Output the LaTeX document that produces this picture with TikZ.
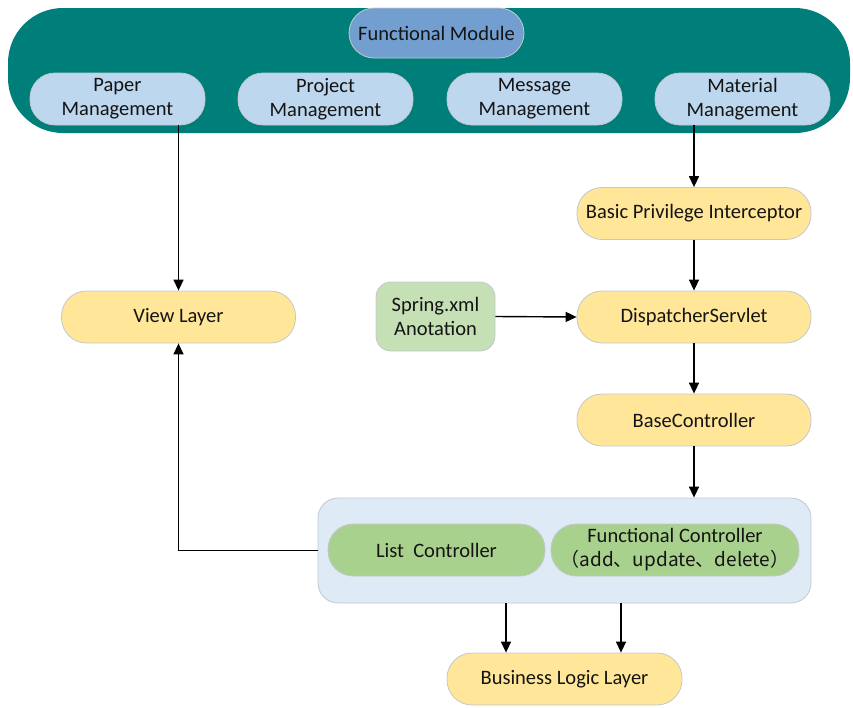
\documentclass[tikz,border=0pt]{standalone}
\usepackage{fontspec}
\setmainfont{Carlito}
\newfontfamily\cjk{Noto Sans CJK SC}
\usetikzlibrary{arrows.meta}
\definecolor{teal1}{RGB}{0,126,122}
\definecolor{fmblue}{RGB}{114,159,207}
\definecolor{ltblue}{RGB}{189,215,238}
\definecolor{ylw}{RGB}{255,230,153}
\definecolor{grn}{RGB}{197,224,180}
\definecolor{grn2}{RGB}{169,209,142}
\definecolor{pale}{RGB}{222,235,247}
\definecolor{edge}{RGB}{195,200,205}
\definecolor{txt}{RGB}{20,20,20}
\begin{document}
\begin{tikzpicture}[x=1pt,y=-1pt,
  every node/.style={font=\fontsize{20.5}{24}\selectfont, text=txt, align=center, inner sep=0pt},
  pill/.style={draw=edge, line width=0.8pt, rounded corners=25pt, minimum height=52pt},
  mgmt/.style={pill, fill=ltblue, minimum width=175pt},
  ybox/.style={pill, fill=ylw, minimum width=234pt},
  gbox/.style={pill, fill=grn2, minimum height=52pt},
  arr/.style={line width=1.4pt, -{Triangle[width=10pt,length=11pt]}}
]
\useasboundingbox (0,0) rectangle (853,707);
% top container
\node[fill=teal1, rounded corners=55pt, minimum width=842pt, minimum height=125pt] (top) at (429,70.5) {};
\node[draw=edge, line width=0.8pt, fill=fmblue, rounded corners=25pt, minimum width=175pt, minimum height=50pt] (fm) at (436.5,33) {Functional Module};
\node[mgmt] (paper) at (117.5,99) {Paper\\Management};
\node[mgmt] (project) at (325.5,99) {Project\\Management};
\node[mgmt] (message) at (534.5,99) {Message\\Management};
\node[mgmt] (material) at (742.5,99) {Material\\Management};
% right column
\node[ybox] (bpi) at (694,213.5) {Basic Privilege Interceptor};
\node[ybox] (view) at (178.5,317) {View Layer};
\node[draw=edge, line width=0.8pt, fill=grn, rounded corners=15pt, minimum width=119pt, minimum height=69pt] (spring) at (435.5,316.5) {Spring.xml\\Anotation};
\node[ybox] (disp) at (694,317) {DispatcherServlet};
\node[ybox] (base) at (694,420) {BaseController};
% controller container
\node[draw=edge, line width=0.8pt, fill=pale, rounded corners=20pt, minimum width=493pt, minimum height=105pt] (ctl) at (564.5,550.5) {};
\node[gbox, minimum width=217pt] (list) at (436.5,550) {List~ Controller};
\node[gbox, minimum width=248pt] (func) at (675,550) {Functional Controller\\{\fontsize{19}{24}\selectfont\cjk{（}add\cjk{、}update\cjk{、}delete\cjk{）}}};
\node[ybox, minimum width=235pt] (bll) at (564.5,679) {Business Logic Layer};
% connectors
\draw[arr] (paper.south -| view.north) -- (view.north);
\draw[arr] (material.south -| bpi.north) -- (bpi.north);
\draw[arr] (bpi) -- (disp);
\draw[arr] (spring.east) -- (disp.west);
\draw[arr] (disp) -- (base);
\draw[arr] (base.south) -- (ctl.north -| base.south);
\draw[arr] (ctl.west) -| (view.south);
\coordinate (c1) at (506,603);
\coordinate (c2) at (621,603);
\draw[arr] (c1) -- (c1 |- bll.north);
\draw[arr] (c2) -- (c2 |- bll.north);
\end{tikzpicture}
\end{document}
